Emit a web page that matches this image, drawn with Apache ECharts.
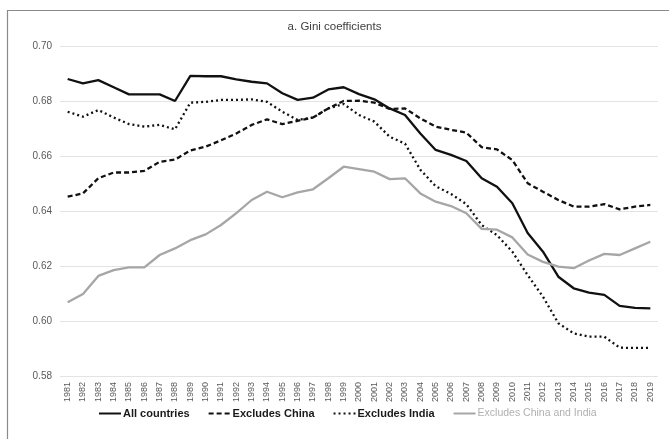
<!DOCTYPE html>
<html>
<head>
<meta charset="utf-8">
<script src="https://cdn.jsdelivr.net/npm/echarts@6/dist/echarts.min.js"></script>
<style>
html,body{margin:0;padding:0;background:#fff;}
#chart{width:669px;height:439px;}
</style>
</head>
<body>
<div id="chart"></div>
<script>
const years = ['1981','1982','1983','1984','1985','1986','1987','1988','1989','1990','1991','1992','1993','1994','1995','1996','1997','1998','1999','2000','2001','2002','2003','2004','2005','2006','2007','2008','2009','2010','2011','2012','2013','2014','2015','2016','2017','2018','2019'];
const allCountries = [0.688,0.6864,0.6876,0.685,0.6824,0.6824,0.6824,0.680,0.6891,0.689,0.689,0.6879,0.687,0.6864,0.6828,0.6804,0.6812,0.6842,0.685,0.6825,0.6806,0.6773,0.6749,0.6682,0.6622,0.6604,0.6582,0.6519,0.6488,0.6428,0.632,0.6252,0.6161,0.6119,0.6103,0.6095,0.6055,0.6048,0.6046];
const excludesChina = [0.6452,0.6464,0.6519,0.654,0.654,0.6546,0.6579,0.6587,0.662,0.6634,0.6657,0.6682,0.6713,0.6733,0.6716,0.6728,0.674,0.6773,0.680,0.6801,0.6794,0.6771,0.6773,0.6737,0.6707,0.6695,0.6685,0.6632,0.6624,0.6585,0.6501,0.647,0.644,0.6416,0.6416,0.6425,0.6406,0.6416,0.6422];
const excludesIndia = [0.6761,0.6743,0.6767,0.674,0.6716,0.6707,0.6713,0.6697,0.6794,0.6797,0.6804,0.6804,0.6806,0.6797,0.6761,0.6731,0.674,0.6773,0.6789,0.6749,0.6725,0.667,0.6645,0.655,0.649,0.6462,0.6425,0.6349,0.6312,0.6252,0.6167,0.6088,0.5992,0.5955,0.5943,0.5943,0.5903,0.5902,0.5902];
const excludesBoth = [0.6068,0.6098,0.6164,0.6185,0.6195,0.6195,0.624,0.6264,0.6294,0.6315,0.6349,0.6392,0.644,0.647,0.645,0.6468,0.6479,0.6519,0.6561,0.6552,0.6543,0.6516,0.6519,0.6464,0.6434,0.6418,0.6392,0.6335,0.6332,0.6304,0.6242,0.6215,0.6198,0.6192,0.622,0.6244,0.624,0.6264,0.6288];
const seriesNames = ['All countries','Excludes China','Excludes India','Excludes China and India'];
const yTicks = {min:0.58, max:0.70, interval:0.02};

const chart = echarts.init(document.getElementById('chart'), null, {renderer:'canvas'});
const font = '"Liberation Sans", Arial, Helvetica, sans-serif';
chart.setOption({
  animation:false,
  backgroundColor:'#fff',
  textStyle:{fontFamily:font},
  graphic:[{type:'rect',shape:{x:7.5,y:10.5,width:700,height:500},style:{fill:'none',stroke:'#8a8a8a',lineWidth:1.2},silent:true}],
  title:{text:'a. Gini coefficients',left:'center',top:16,textStyle:{fontSize:11.5,fontWeight:'normal',color:'#404040',fontFamily:font}},
  grid:{left:60,right:11,top:46,bottom:63},
  xAxis:{type:'category',data:years,boundaryGap:true,
    axisLine:{show:false},axisTick:{show:false},
    axisLabel:{rotate:90,fontSize:9,color:'#595959',interval:0,margin:6}},
  yAxis:{type:'value',min:yTicks.min,max:yTicks.max,interval:yTicks.interval,
    axisLabel:{formatter:v=>v.toFixed(2),fontSize:10,color:'#595959',margin:8},
    axisLine:{show:false},axisTick:{show:false},
    splitLine:{lineStyle:{color:'#e3e3e3',width:1}}},
  legend:{bottom:15,left:93,itemWidth:22,itemHeight:10,itemGap:18,
    itemStyle:{opacity:0},
    textStyle:{fontSize:11,fontWeight:'bold',color:'#1a1a1a',fontFamily:font,padding:[0,0,0,-3]},
    data:[
      {name:seriesNames[0]},
      {name:seriesNames[1]},
      {name:seriesNames[2]},
      {name:seriesNames[3],textStyle:{color:'#b0b0b0',fontWeight:'normal',fontSize:10.5}}
    ]},
  series:[
    {name:seriesNames[0],type:'line',data:allCountries,showSymbol:false,lineStyle:{color:'#111',width:2.3,type:'solid'},itemStyle:{color:'#111'}},
    {name:seriesNames[1],type:'line',data:excludesChina,showSymbol:false,lineStyle:{color:'#111',width:2.3,type:[5,3]},itemStyle:{color:'#111'}},
    {name:seriesNames[2],type:'line',data:excludesIndia,showSymbol:false,lineStyle:{color:'#111',width:2.3,type:[2,3]},itemStyle:{color:'#111'}},
    {name:seriesNames[3],type:'line',data:excludesBoth,showSymbol:false,lineStyle:{color:'#a6a6a6',width:2.3,type:'solid'},itemStyle:{color:'#a6a6a6'}}
  ]
});
</script>
</body>
</html>
